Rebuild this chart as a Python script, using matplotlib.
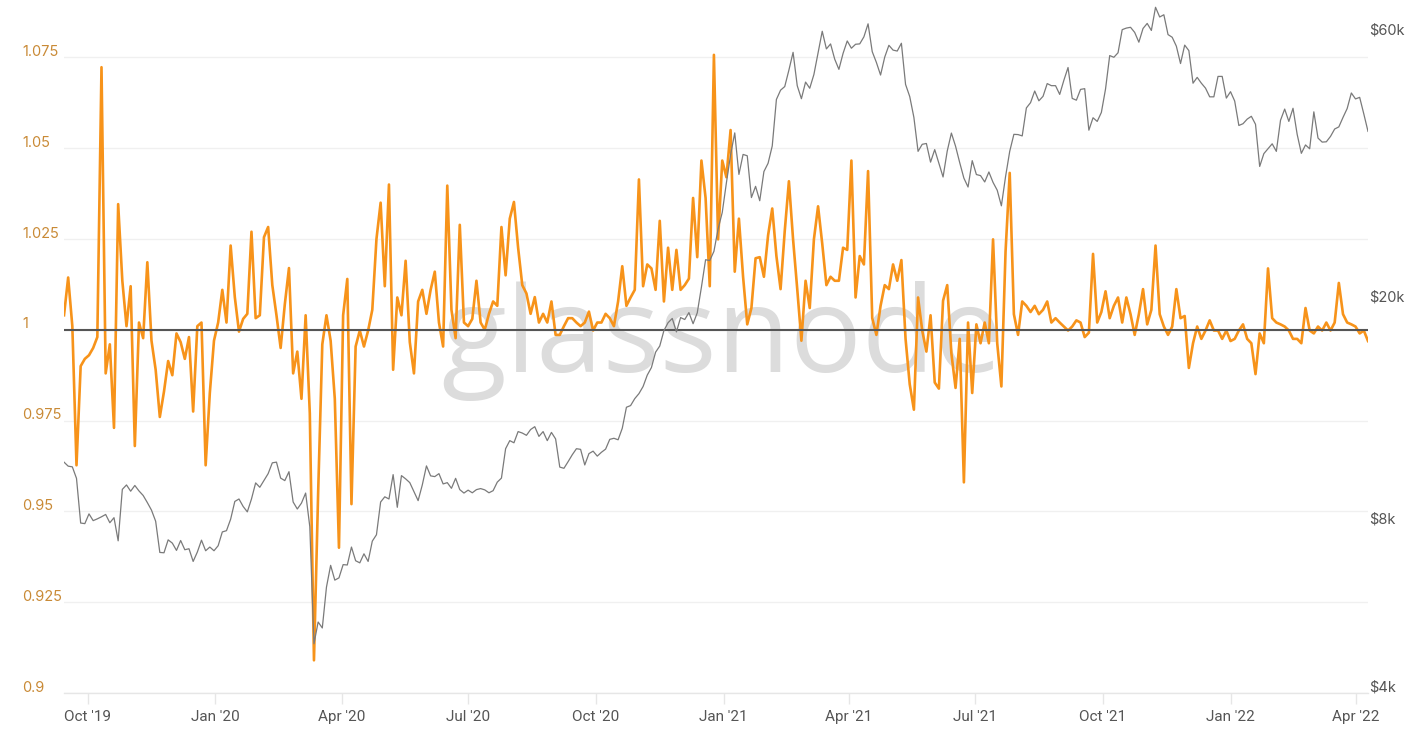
import matplotlib
matplotlib.use("Agg")
import matplotlib.pyplot as plt
import pandas as pd
from matplotlib.transforms import ScaledTranslation
from matplotlib.ticker import FixedLocator, NullLocator

# ---------------- data ----------------
start_date = "2019-09-14"
step_days = 3

ratio = [
    1.004, 1.0144, 1.001, 0.9627, 0.990, 0.992, 0.993, 0.995, 0.998, 1.0723,
    0.988, 0.996, 0.973, 1.0346, 1.0135, 1.001, 1.012, 0.968, 1.002, 0.9977,
    1.0186, 0.997, 0.989, 0.976, 0.983, 0.9914, 0.9875, 0.999, 0.9966, 0.992,
    0.998, 0.9775, 1.001, 1.002, 0.9627, 0.9826, 0.997, 1.002, 1.011, 1.002,
    1.0232, 1.009, 0.9995, 1.003, 1.0044, 1.027, 1.0032, 1.004, 1.0255, 1.0283,
    1.0123, 1.004, 0.995, 1.007, 1.017, 0.988, 0.994, 0.981, 1.004, 0.977,
    0.909, 0.955, 0.996, 1.004, 0.997, 0.981, 0.940, 1.004, 1.014, 0.952,
    0.9954, 0.9998, 0.9954, 0.9998, 1.0055, 1.025, 1.035, 1.012, 1.040, 0.989,
    1.0089, 1.004, 1.019, 0.9966, 0.988, 1.0078, 1.011, 1.0044, 1.011, 1.016,
    1.002, 0.9954, 1.0397, 1.0055, 0.9977, 1.0289, 1.002, 1.001, 1.003, 1.0135,
    1.002, 1.000, 1.0044, 1.0078, 1.0066, 1.0283, 1.015, 1.0306, 1.0352, 1.0226,
    1.0123, 1.010, 1.0044, 1.009, 1.002, 1.0044, 1.002, 1.0078, 0.9986, 0.9986,
    1.001, 1.0032, 1.0032, 1.002, 1.001, 1.002, 1.005, 0.9998, 1.002, 1.002,
    1.0044, 1.0032, 1.001, 1.0078, 1.0175, 1.0066, 1.0089, 1.011, 1.0414, 1.012,
    1.018, 1.0169, 1.011, 1.030, 1.0078, 1.0226, 1.011, 1.022, 1.011, 1.0123,
    1.0141, 1.0363, 1.020, 1.0466, 1.0363, 1.012, 1.0757, 1.0249, 1.0466, 1.042,
    1.055, 1.016, 1.0306, 1.0146, 1.0015, 1.006, 1.0197, 1.020, 1.0146, 1.026,
    1.0334, 1.0203, 1.0112, 1.0272, 1.0409, 1.0249, 1.0112, 0.997, 1.0135, 1.006,
    1.0249, 1.034, 1.0237, 1.0123, 1.0146, 1.0135, 1.0135, 1.0226, 1.022, 1.0466,
    1.0089, 1.0203, 1.018, 1.0437, 1.0032, 0.9986, 1.0066, 1.0123, 1.0112, 1.018,
    1.0135, 1.0192, 0.9975, 0.985, 0.978, 1.0089, 0.9998, 0.994, 1.004, 0.9855,
    0.9838, 1.008, 1.0123, 0.9935, 0.984, 0.9975, 0.958, 1.002, 0.9826, 1.0015,
    0.9963, 1.002, 0.9963, 1.0249, 0.9963, 0.9844, 1.0215, 1.0432, 1.0043, 0.9986,
    1.0078, 1.0066, 1.0049, 1.0066, 1.0043, 1.0055, 1.0078, 1.002, 1.0032, 1.002,
    1.0009, 0.9998, 1.0009, 1.0026, 1.002, 0.998, 0.9992, 1.0209, 1.002, 1.0049,
    1.0106, 1.0032, 1.0066, 1.0089, 1.002, 1.0089, 1.0043, 0.9986, 1.0043, 1.0112,
    1.0015, 1.0055, 1.0232, 1.0043, 1.0009, 0.9986, 1.0009, 1.0112, 1.0032, 1.0038,
    0.9895, 0.9963, 1.0009, 0.9975, 0.9998, 1.0026, 0.9998, 0.9998, 0.9975, 0.9998,
    0.9969, 0.9975, 0.9998, 1.0015, 0.9975, 0.9963, 0.9878, 0.999, 0.9963, 1.0169,
    1.0032, 1.002, 1.0015, 1.0009, 0.9998, 0.9975, 0.9975, 0.9963, 1.006, 0.9998,
    0.999, 1.0009, 0.9998, 1.002, 0.9998, 1.002, 1.0129, 1.0043, 1.002, 1.0015,
    1.0009, 0.999, 0.9998, 0.9969,
]

price = [
    10360, 10190, 10160, 9690, 8060, 8040, 8370, 8140, 8200, 8270,
    8350, 8070, 8240, 7490, 9260, 9430, 9190, 9410, 9200, 9030,
    8770, 8500, 8120, 7140, 7130, 7520, 7420, 7200, 7500, 7220,
    7250, 6880, 7150, 7510, 7190, 7300, 7190, 7340, 7770, 7810,
    8190, 8810, 8900, 8630, 8440, 8900, 9510, 9340, 9610, 9880,
    10330, 10360, 9700, 9600, 9960, 8790, 8540, 8750, 9120, 7940,
    4900, 5360, 5230, 6190, 6770, 6370, 6430, 6790, 6780, 7300,
    6900, 6840, 7100, 6880, 7480, 7680, 8790, 8980, 8900, 9840,
    8600, 9800, 9670, 9520, 9170, 8840, 9430, 10200, 9790, 9760,
    9880, 9470, 9520, 9300, 9690, 9250, 9120, 9230, 9130, 9250,
    9290, 9240, 9130, 9210, 9540, 9700, 10950, 11320, 11220, 11750,
    11680, 11570, 11850, 11990, 11520, 11750, 11320, 11710, 11400, 10150,
    10100, 10380, 10680, 10950, 10920, 10240, 10730, 10840, 10620, 10790,
    10930, 11380, 11430, 11360, 11910, 12990, 13080, 13460, 13740, 14150,
    14830, 15300, 16300, 16720, 17820, 18410, 18730, 17720, 18800, 18650,
    19190, 18330, 19170, 21310, 23860, 23780, 24700, 27080, 29000, 32780,
    36770, 40250, 33920, 36830, 36630, 30830, 32290, 30430, 34320, 35510,
    38140, 46200, 48000, 48720, 52150, 56100, 48890, 46340, 49630, 48380,
    51210, 55960, 61190, 56900, 58080, 54530, 52300, 55860, 58800, 57060,
    58000, 58090, 59800, 63100, 56260, 53810, 51090, 55010, 57750, 56620,
    56400, 58240, 49150, 46760, 42900, 37300, 38400, 38530, 35680, 37570,
    35520, 33560, 37340, 40220, 38100, 35600, 33400, 32200, 35900, 33900,
    33750, 32880, 34260, 32820, 31780, 29800, 33600, 37300, 40010, 39970,
    39750, 44610, 45590, 47830, 45940, 46800, 49320, 48900, 48900, 47170,
    50000, 52700, 46400, 46060, 48150, 48300, 40700, 42840, 42200, 43790,
    48230, 55360, 54970, 56000, 61600, 62000, 62200, 60900, 58500, 61900,
    63200, 61400, 67550, 64900, 65500, 60360, 59700, 57540, 53570, 57800,
    56500, 49400, 50600, 49400, 48400, 46700, 46700, 50800, 50800, 46460,
    47700, 45900, 41500, 41800, 42600, 43100, 41700, 35050, 36950, 37700,
    38480, 37300, 42400, 44400, 42200, 44550, 40000, 37000, 38300, 37700,
    43900, 39400, 38750, 38800, 39670, 40900, 41260, 42900, 44500, 47450,
    46300, 46600, 43500, 40500,
]

ratio_ticks = [0.9, 0.925, 0.95, 0.975, 1.0, 1.025, 1.05, 1.075]
ratio_labels = ["0.9", "0.925", "0.95", "0.975", "1", "1.025", "1.05", "1.075"]
price_ticks = [4000, 8000, 20000, 60000]
price_labels = ["$4k", "$8k", "$20k", "$60k"]
month_ticks = ["2019-10-01", "2020-01-01", "2020-04-01", "2020-07-01", "2020-10-01",
               "2021-01-01", "2021-04-01", "2021-07-01", "2021-10-01", "2022-01-01",
               "2022-04-01"]
month_labels = ["Oct '19", "Jan '20", "Apr '20", "Jul '20", "Oct '20", "Jan '21",
                "Apr '21", "Jul '21", "Oct '21", "Jan '22", "Apr '22"]
baseline_value = 1.0
watermark = "glassnode"

# ---------------- figure ----------------
W, H = 1427, 730
fig = plt.figure(figsize=(W / 100, H / 100), dpi=100)
fig.patch.set_facecolor("white")

left_px, right_px, top_px, bottom_px = 64, 1368, 5, 693
ax = fig.add_axes([left_px / W, 1 - bottom_px / H,
                   (right_px - left_px) / W, (bottom_px - top_px) / H])
ax2 = ax.twinx()

dates = pd.date_range(start_date, periods=len(ratio), freq=f"{step_days}D")

# ratio axis: 0.025 per 90.8 px
ratio_top = 0.9 + (bottom_px - top_px) / 90.8 * 0.025
ax.set_ylim(0.9, ratio_top)
# price axis: log, 558.6 px per decade
price_top = 4000 * 10 ** ((bottom_px - top_px) / 558.6)
ax2.set_yscale("log")
ax2.set_ylim(4000, price_top)

ax.set_xlim(dates[0], dates[-1])
ax2.set_xlim(dates[0], dates[-1])

# watermark
ax.text(722 / W, 1 - 372 / H, watermark, transform=fig.transFigure,
        ha="center", va="baseline", fontsize=86, color="#dcdcdc",
        family="Open Sans", zorder=0.3)

# grid
ax.set_axisbelow(True)
ax.yaxis.set_major_locator(FixedLocator(ratio_ticks))
ax.yaxis.grid(True, color="#f0f0f0", linewidth=1.0, zorder=0.2)
ax.set_yticklabels(ratio_labels)

# series
ax.plot(dates, ratio, color="#f7931a", linewidth=1.9, zorder=2,
        solid_joinstyle="round")
ax.axhline(baseline_value, color="#555555", linewidth=1.5, zorder=3)
ax2.plot(dates, price, color="#7a7a7a", linewidth=0.9, zorder=4)

# spines
for s in ["top", "right", "left"]:
    ax.spines[s].set_visible(False)
    ax2.spines[s].set_visible(False)
ax2.spines["bottom"].set_visible(False)
ax.spines["bottom"].set_color("#e6e6e6")
ax.spines["bottom"].set_linewidth(1.0)

# left tick labels
ax.tick_params(axis="y", length=0, pad=42 * 0.72, labelsize=10.5,
               labelcolor="#c98a36")
up = ScaledTranslation(0, 7 / 100, fig.dpi_scale_trans)
for lab in ax.get_yticklabels():
    lab.set_horizontalalignment("left")
    lab.set_family("Inter")
    lab.set_transform(lab.get_transform() + up)

# right tick labels
ax2.yaxis.set_major_locator(FixedLocator(price_ticks))
ax2.yaxis.set_minor_locator(NullLocator())
ax2.set_yticklabels(price_labels)
ax2.tick_params(axis="y", length=0, pad=0.5, labelsize=10.5, labelcolor="#555555")
for lab in ax2.get_yticklabels():
    lab.set_family("Inter")
    lab.set_transform(lab.get_transform() + up)

# x ticks
ax.set_xticks(pd.to_datetime(month_ticks))
ax.set_xticklabels(month_labels)
ax.tick_params(axis="x", length=8, width=1, color="#e6e6e6", pad=4,
               labelsize=11, labelcolor="#555555")
for lab in ax.get_xticklabels():
    lab.set_family("Roboto")
ax2.tick_params(axis="x", length=0, labelbottom=False)

fig.savefig("out.png", dpi=100, facecolor="white")
